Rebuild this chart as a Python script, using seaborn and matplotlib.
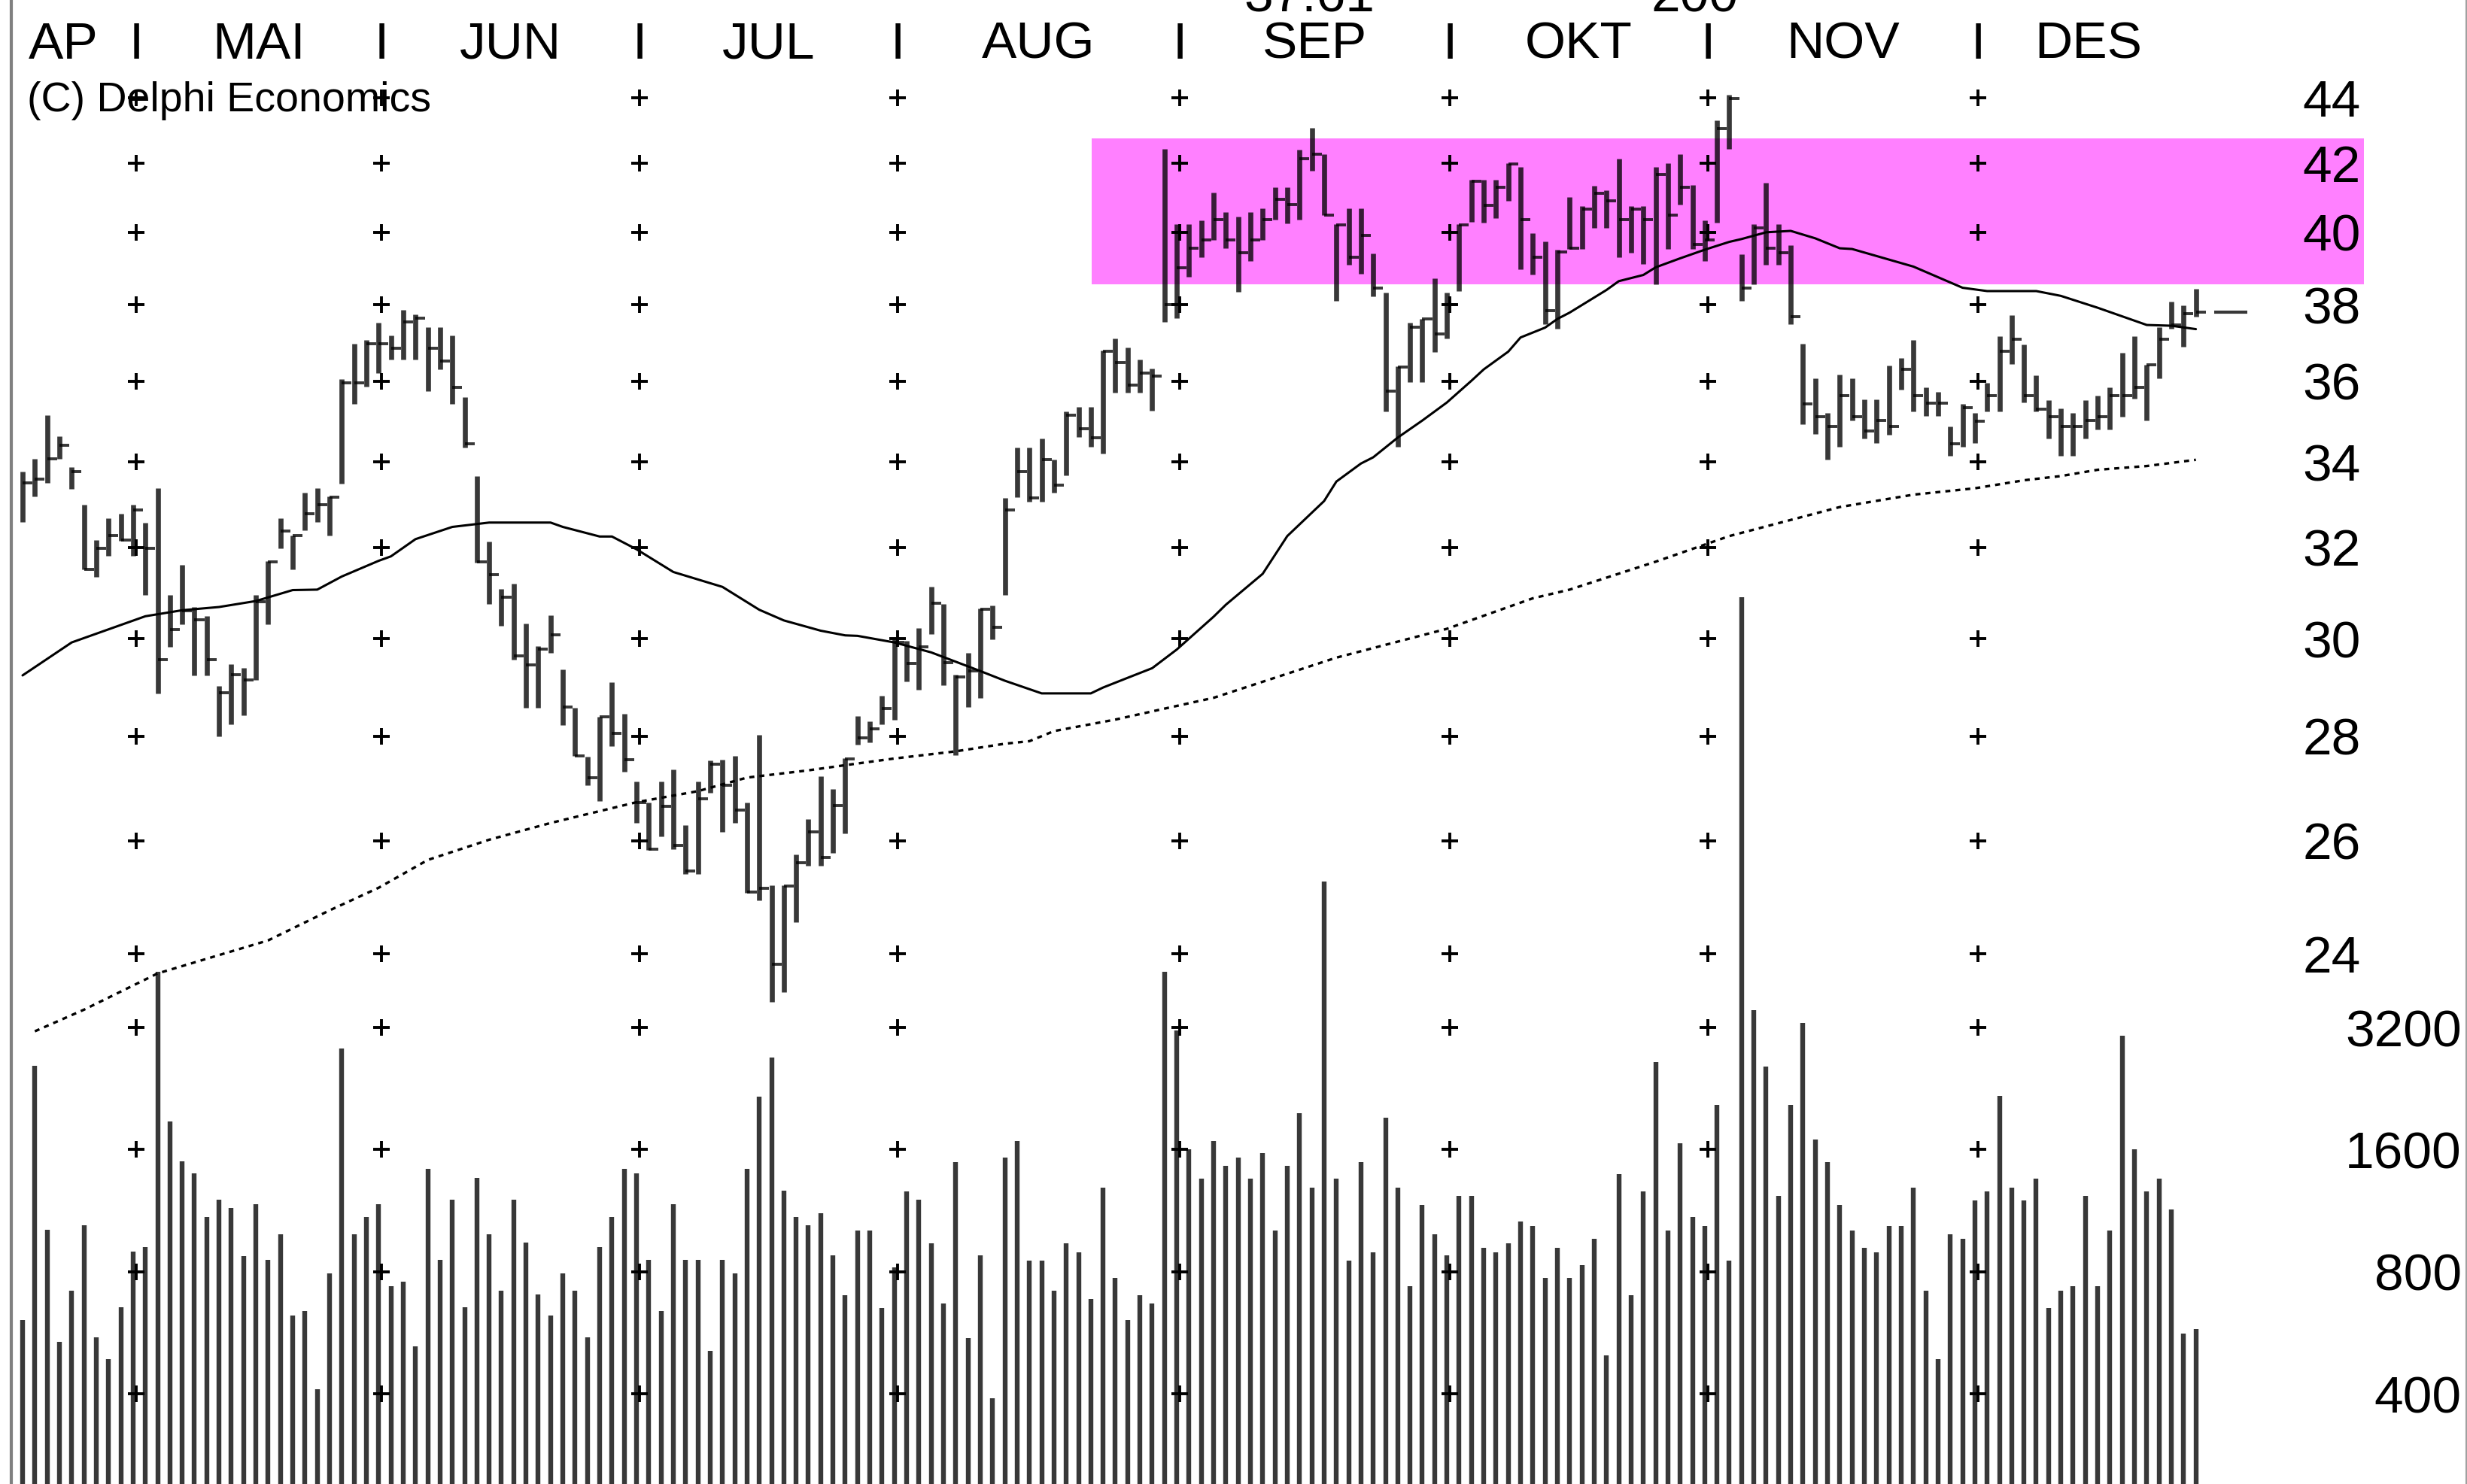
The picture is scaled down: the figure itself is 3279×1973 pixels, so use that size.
import numpy as np
import pandas as pd
import matplotlib
matplotlib.use("Agg")
import matplotlib.pyplot as plt
import matplotlib.transforms as mtransforms
import seaborn as sns

sns.set_theme(style="white")
FONT = ["Liberation Sans Narrow", "Liberation Sans", "DejaVu Sans"]
plt.rcParams["font.family"] = FONT

# ---------------- data ----------------
high = [33.77, 34.08, 35.14, 34.62, 33.88, 32.98, 32.17, 32.67, 32.77, 32.98,
        32.57, 33.38, 30.95, 31.61, 30.68, 30.48, 29.01, 29.46, 29.39, 30.95,
        31.69, 32.67, 32.28, 33.27, 33.38, 33.17, 36.06, 36.96, 37.07, 37.53,
        37.19, 37.87, 37.75, 37.40, 37.40, 37.19, 35.60, 33.65, 32.14, 31.07,
        31.19, 30.32, 29.84, 30.50, 29.35, 28.57, 27.59, 28.38, 29.09, 28.45,
        27.11, 26.72, 27.11, 27.35, 26.29, 27.11, 27.52, 27.53, 27.61, 26.72,
        28.03, 25.20, 25.20, 25.75, 26.40, 27.22, 26.97, 27.56, 28.40, 28.30,
        28.81, 29.99, 29.95, 30.22, 31.12, 30.74, 29.25, 29.70, 30.64, 30.72,
        33.15, 34.35, 34.35, 34.56, 34.06, 35.24, 35.34, 35.34, 36.78, 37.10,
        36.87, 36.56, 36.33, 42.43, 40.23, 40.23, 40.33, 41.15, 40.58, 40.44,
        40.58, 40.69, 41.29, 41.29, 42.42, 43.08, 42.27, 40.23, 40.69, 40.69,
        39.40, 38.32, 36.38, 37.52, 37.63, 38.72, 38.32, 40.23, 41.52, 41.52,
        41.52, 42.00, 41.89, 39.98, 39.74, 39.51, 41.01, 40.74, 41.33, 41.20,
        42.14, 40.74, 40.74, 41.89, 42.00, 42.27, 41.37, 40.33, 43.31, 44.10,
        39.39, 40.23, 41.42, 40.23, 39.63, 36.97, 36.07, 35.20, 36.17, 36.08,
        35.53, 35.53, 36.40, 36.60, 37.07, 35.84, 35.73, 34.86, 35.42, 35.20,
        35.96, 37.17, 37.73, 36.95, 36.15, 35.52, 35.31, 35.20, 35.52, 35.63,
        35.84, 36.73, 37.17, 36.41, 37.40, 38.08, 37.99, 38.43]

low = [32.59, 33.17, 33.49, 34.08, 33.36, 31.50, 31.34, 31.81, 32.15, 31.82,
       30.95, 28.86, 29.83, 30.30, 29.23, 29.23, 27.99, 28.24, 28.42, 29.13,
       30.30, 31.99, 31.50, 32.39, 32.59, 32.28, 33.48, 35.43, 35.86, 36.20,
       36.55, 36.55, 36.55, 35.74, 36.30, 35.43, 34.35, 31.66, 30.74, 30.28,
       29.56, 28.57, 28.57, 29.70, 28.22, 27.61, 27.04, 26.74, 27.80, 27.30,
       26.33, 25.83, 26.08, 25.84, 25.39, 25.39, 26.90, 26.17, 26.33, 25.06,
       24.93, 23.20, 23.36, 24.55, 25.55, 25.55, 25.78, 26.14, 27.83, 27.88,
       28.24, 28.32, 29.10, 28.94, 30.09, 29.02, 27.62, 28.58, 28.76, 29.99,
       30.95, 33.16, 33.05, 33.05, 33.27, 33.68, 34.60, 34.37, 34.20, 35.70,
       35.70, 35.70, 35.26, 37.55, 37.65, 38.76, 39.30, 39.79, 39.55, 38.35,
       39.20, 39.79, 40.36, 40.25, 40.36, 41.78, 40.48, 38.11, 39.09, 38.84,
       38.23, 35.24, 34.37, 35.98, 35.98, 36.75, 37.10, 38.37, 40.29, 40.27,
       40.40, 40.90, 38.96, 38.83, 37.48, 37.36, 39.53, 39.53, 40.12, 40.12,
       39.29, 39.42, 39.11, 38.55, 39.53, 40.79, 39.53, 39.20, 40.28, 42.44,
       38.11, 38.55, 39.09, 39.09, 37.48, 34.91, 34.68, 34.05, 34.37, 35.01,
       34.57, 34.46, 34.65, 35.79, 35.24, 35.13, 35.13, 34.15, 34.37, 34.46,
       35.24, 35.24, 36.43, 35.46, 35.24, 34.57, 34.15, 34.15, 34.57, 34.78,
       34.78, 35.11, 35.55, 35.01, 36.08, 37.36, 36.88, 37.69]

close = [33.49, 33.58, 34.08, 34.40, 33.77, 31.51, 31.98, 32.28, 32.17, 32.87,
         31.98, 29.56, 30.19, 30.60, 30.41, 29.56, 28.88, 29.24, 29.13, 30.80,
         31.68, 32.37, 32.27, 32.77, 32.98, 33.16, 35.95, 35.95, 36.97, 36.97,
         36.85, 37.55, 37.65, 36.85, 36.52, 35.84, 34.44, 31.68, 31.39, 30.89,
         29.63, 29.45, 29.78, 30.08, 28.58, 27.61, 27.19, 28.38, 28.05, 27.54,
         26.72, 25.84, 26.64, 25.91, 25.45, 26.79, 27.45, 27.04, 26.57, 25.08,
         25.14, 23.83, 25.18, 25.60, 26.17, 25.70, 26.66, 27.55, 27.97, 28.15,
         28.55, 29.93, 29.48, 29.83, 30.76, 29.50, 29.20, 29.32, 30.63, 30.24,
         32.87, 33.77, 33.15, 34.06, 33.45, 35.14, 34.80, 34.58, 36.76, 36.48,
         35.90, 36.21, 36.12, 38.00, 39.00, 39.55, 39.79, 40.36, 39.78, 39.43,
         39.78, 40.36, 40.95, 40.80, 42.14, 42.28, 40.50, 40.20, 39.30, 39.92,
         38.45, 35.75, 36.36, 37.40, 37.62, 37.23, 38.00, 40.20, 41.48, 40.76,
         41.30, 41.98, 40.36, 39.31, 37.84, 39.44, 39.55, 40.67, 41.13, 40.90,
         40.36, 40.67, 40.36, 41.67, 40.49, 41.30, 39.65, 39.79, 43.05, 43.98,
         38.46, 40.12, 39.55, 39.43, 37.69, 35.43, 35.11, 34.86, 35.64, 35.11,
         34.76, 35.01, 34.87, 36.30, 35.63, 35.44, 35.44, 34.44, 35.33, 34.99,
         35.64, 36.76, 37.09, 35.64, 35.30, 35.11, 34.87, 34.87, 35.01, 35.11,
         35.64, 35.64, 35.84, 36.41, 37.09, 37.46, 37.77, 37.80]

volume = [608, 2571, 1015, 538, 719, 1041, 550, 487, 654, 896,
          919, 4400, 1878, 1499, 1398, 1091, 1204, 1147, 875, 1174,
          855, 989, 624, 640, 410, 793, 2840, 989, 1091, 1174,
          738, 756, 524, 1434, 855, 1204, 654, 1362, 989, 719,
          1204, 943, 703, 624, 793, 719, 550, 919, 1091, 1434,
          1398, 855, 640, 1174, 855, 855, 511, 855, 793, 1434,
          2165, 2700, 1267, 1091, 1041, 1117, 879, 700, 1011, 1011,
          652, 818, 1261, 1205, 941, 669, 1493, 549, 879, 390,
          1532, 1683, 851, 851, 718, 941, 893, 685, 1290, 772,
          608, 700, 669, 4391, 3151, 1604, 1354, 1683, 1459, 1532,
          1354, 1569, 1011, 1459, 1967, 1290, 7336, 1354, 851, 1493,
          893, 1919, 1290, 737, 1170, 989, 879, 1229, 1229, 917,
          893, 941, 1062, 1037, 772, 917, 772, 832, 963, 498,
          1394, 700, 1261, 2635, 1011, 1658, 1089, 1037, 2059, 851,
          36900, 3530, 2568, 1229, 2059, 3278, 1694, 1493, 1170, 1011,
          917, 893, 1037, 1037, 1290, 718, 487, 989, 963, 1201,
          1261, 2171, 1290, 1201, 1354, 652, 718, 737, 1229, 737,
          1011, 3052, 1604, 1261, 1354, 1140, 563, 577]

# moving averages (bar index, value)
ma_short_idx = [0, 4, 10, 13, 16, 19, 22, 24, 26, 29, 30, 32, 35, 38, 43, 44, 47, 48, 50, 53,
                57, 60, 62, 65, 67, 68, 71, 74, 78, 80, 83, 87, 88, 90, 92, 94, 97, 98, 101, 103,
                106, 107, 109, 110, 112, 114, 116, 118, 119, 121, 122, 124, 125, 126, 129, 130,
                132, 133, 135, 137, 139, 140, 142, 144, 146, 148, 149, 154, 158, 160, 164, 166,
                169, 173, 175, 177]
ma_short = [29.23, 29.92, 30.48, 30.61, 30.68, 30.81, 31.05, 31.06, 31.35, 31.70, 31.80, 32.19,
            32.47, 32.57, 32.57, 32.47, 32.25, 32.25, 31.96, 31.45, 31.12, 30.62, 30.39, 30.17,
            30.07, 30.06, 29.92, 29.71, 29.32, 29.12, 28.86, 28.86, 28.98, 29.18, 29.38, 29.77,
            30.47, 30.73, 31.41, 32.26, 33.07, 33.53, 33.96, 34.11, 34.59, 35.01, 35.46, 36.01,
            36.30, 36.76, 37.13, 37.39, 37.62, 37.79, 38.40, 38.64, 38.81, 39.02, 39.27, 39.51,
            39.73, 39.81, 40.00, 40.04, 39.83, 39.55, 39.53, 39.04, 38.46, 38.37, 38.37, 38.24,
            37.92, 37.46, 37.44, 37.35]
ma_long_idx = [1, 5, 11, 20, 25, 29, 33, 38, 43, 50, 55, 59, 64, 67, 71, 76, 80, 82, 84, 89,
               93, 97, 107, 116, 123, 126, 133, 139, 146, 148, 154, 159, 163, 166, 169, 173, 177]
ma_long = [22.72, 23.07, 23.67, 24.23, 24.75, 25.15, 25.65, 26.02, 26.33, 26.72, 26.93, 27.19,
           27.33, 27.43, 27.56, 27.70, 27.85, 27.90, 28.10, 28.33, 28.55, 28.77, 29.60, 30.21,
           30.87, 31.06, 31.68, 32.26, 32.78, 32.93, 33.22, 33.37, 33.56, 33.66, 33.81, 33.90,
           34.05]

months = ["AP", "MAI", "JUN", "JUL", "AUG", "SEP", "OKT", "NOV", "DES"]
month_first_bar = [10, 30, 51, 72, 95, 117, 138, 160]
price_levels = [44, 42, 40, 38, 36, 34, 32, 30, 28, 26, 24]
volume_levels = [3200, 1600, 800, 400]
band_low, band_high = 38.55, 42.75
band_start = 87.1
top_notes = [("37.61", 104.8), ("200", 136.2)]
copyright_text = "(C) Delphi Economics"

# ---------------- figure ----------------
W, H = 3280, 1973
STEP, X0 = 16.32, 30.0
fig = plt.figure(figsize=(W / 100, H / 100), dpi=100, facecolor="white")
x_lo, x_hi = -X0 / STEP, (W - X0) / STEP

axv = fig.add_axes([0, 0, 1, 1], facecolor="none", zorder=1)
ax = fig.add_axes([0, 0, 1, 1], facecolor="none", zorder=2)
for a in (ax, axv):
    a.set_xlim(x_lo, x_hi)
    a.set_yscale("log")
    a.set_axis_off()
ax.set_ylim(16.49, 47.15)
axv.set_ylim(239.6, 1.094e6)

n = len(close)
idx = np.arange(n)
bar_col = (0, 0, 0, 0.78)

# highlight band
ax.fill_between([band_start, (3142 - X0) / STEP], band_low, band_high,
                color="#ff80ff", lw=0, zorder=0)

# price bars (high-low with close tick)
ax.vlines(idx, low, high, colors=[bar_col], lw=4.8, zorder=3)
ax.hlines(close, idx, idx + 0.8, colors=[bar_col], lw=2.8, zorder=3)
ax.hlines(close[-1], n + 0.5, n + 3.2, colors=[bar_col], lw=3, zorder=3)

# moving averages
df_s = pd.DataFrame({"i": ma_short_idx, "v": ma_short})
df_l = pd.DataFrame({"i": ma_long_idx, "v": ma_long})
sns.lineplot(data=df_s, x="i", y="v", ax=ax, color="black", lw=2.2,
             estimator=None, sort=False, zorder=4)
sns.lineplot(data=df_l, x="i", y="v", ax=ax, color="black", lw=2.4,
             estimator=None, sort=False, zorder=4, linestyle=(0, (2, 2)))
ax.set_xlim(x_lo, x_hi)
ax.set_ylim(16.49, 47.15)
ax.set_axis_off()

# volume bars
axv.vlines(idx, 100, volume, colors=[bar_col], lw=4.6, zorder=3)

# grid crosses at month separators
sep = [m - 0.75 for m in month_first_bar]
gx = np.repeat(sep, len(price_levels))
gy = np.tile(price_levels, len(sep))
sns.scatterplot(x=gx, y=gy, ax=ax, marker="+", s=16 ** 2, linewidth=2.8,
                color="black", zorder=5, legend=False)
vx = np.repeat(sep, len(volume_levels))
vy = np.tile(volume_levels, len(sep))
sns.scatterplot(x=vx, y=vy, ax=axv, marker="+", s=16 ** 2, linewidth=2.8,
                color="black", zorder=5, legend=False)
for a in (ax, axv):
    a.set_xlim(x_lo, x_hi)
    a.set_axis_off()
axv.set_ylim(239.6, 1.094e6)

# borders
ax.axvline((15 - X0) / STEP, color="#808080", lw=3, zorder=6)
ax.axvline((3278 - X0) / STEP, color="#a0a0a0", lw=1.5, zorder=6)

# month labels and separators
tb = mtransforms.blended_transform_factory(ax.transData, fig.transFigure)
edges = [-2.65] + sep + [n - 0.75]
base_y = 1 - 78 / H
for k, name in enumerate(months):
    cx = (edges[k] + edges[k + 1]) / 2
    ax.text(cx, base_y, name, transform=tb, ha="center", va="baseline",
            fontsize=50, family=FONT, color="black")
for s in sep:
    ax.text(s, base_y, "I", transform=tb, ha="center", va="baseline",
            fontsize=50, family=FONT, color="black")
for txt, xpos in top_notes:
    ax.text(xpos, 1 - 15 / H, txt, transform=tb, ha="center", va="baseline",
            fontsize=50, family=FONT, color="black")

fig.text(36 / W, 1 - 148 / H, copyright_text, ha="left", va="baseline",
         fontsize=40, family=FONT, color="black")

# right-hand scale labels
for lv in price_levels:
    ax.text(3138 / W, lv, str(lv), transform=ax.get_yaxis_transform(),
            ha="right", va="center_baseline", fontsize=50, family=FONT,
            color="black", zorder=7)
for lv in volume_levels:
    axv.text(3272 / W, lv, str(lv), transform=axv.get_yaxis_transform(),
             ha="right", va="center_baseline", fontsize=50, family=FONT,
             color="black", zorder=7)

fig.savefig("out.png", dpi=100, facecolor="white")
